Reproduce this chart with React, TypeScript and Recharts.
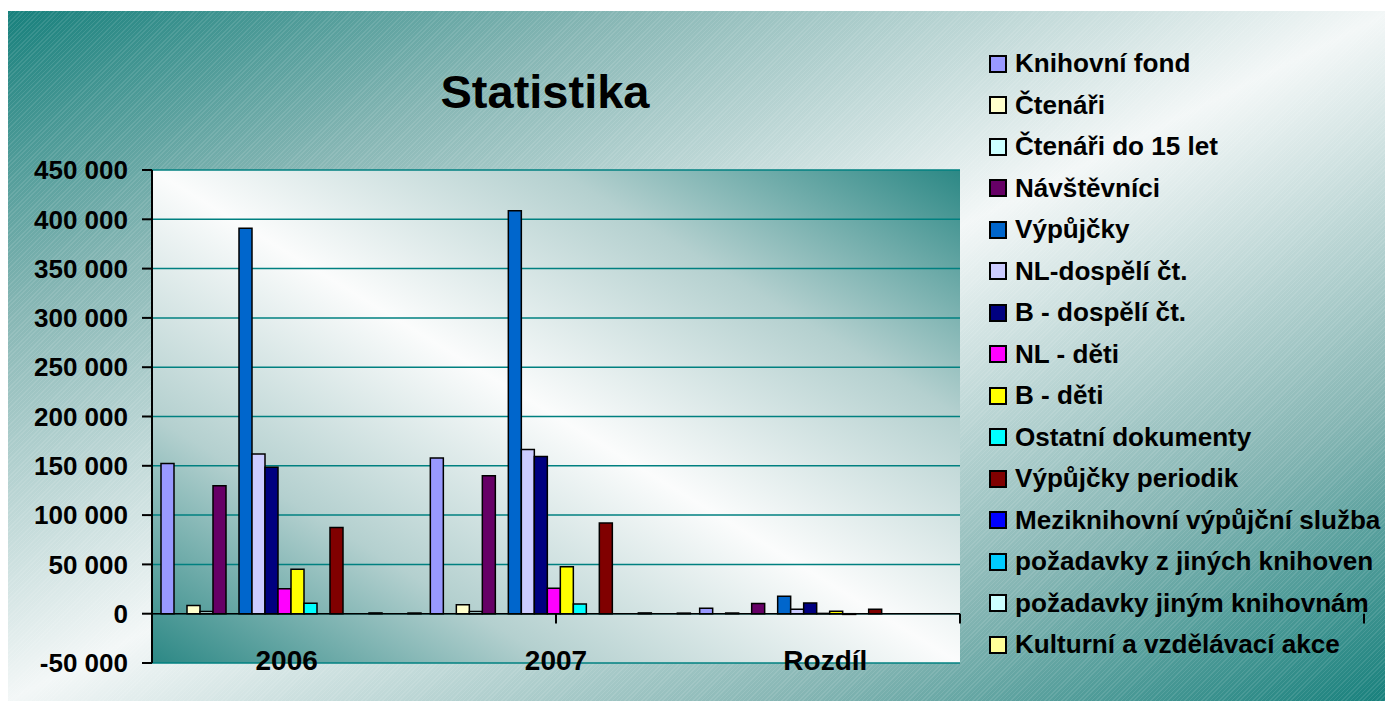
import {
    BarChart, Bar, XAxis, YAxis, CartesianGrid, ReferenceLine, ReferenceArea
} from 'recharts';

// categories on the x axis
const categories = ['2006', '2007', 'Rozdíl'];

// series values per category (2006, 2007, difference)
const knihovniFond = [152400, 158000, 5600];
const ctenari = [8400, 9100, 700];
const ctenariDo15 = [2300, 2300, 0];
const navstevnici = [129700, 140000, 10300];
const vypujcky = [391000, 408700, 17700];
const nlDospeli = [162000, 166600, 4600];
const bDospeli = [148600, 159500, 10900];
const nlDeti = [25400, 25700, 300];
const bDeti = [45000, 47500, 2500];
const ostatniDokumenty = [10500, 9800, -700];
const vypujckyPeriodik = [87400, 92000, 4600];
const meziknihovni = [0, 0, 0];
const pozadavkyZJinych = [800, 800, 0];
const pozadavkyJinym = [0, 0, 0];
const kulturniAkce = [700, 600, 0];
const empty = [null, null, null];

const yTicks = [-50000, 0, 50000, 100000, 150000, 200000, 250000, 300000, 350000, 400000, 450000];
const categoryBounds = [0, 1, 2, 3];

// series in plotting order; entries without a name are empty series hidden from the legend
const SERIES: { key: string; name: string | null; color: string; values: (number | null)[] }[] = [
    { key: 's0', name: 'Knihovní fond', color: '#9999FF', values: knihovniFond },
    { key: 's1', name: null, color: '#993366', values: empty },
    { key: 's2', name: 'Čtenáři', color: '#FFFFCC', values: ctenari },
    { key: 's3', name: 'Čtenáři do 15 let', color: '#CCFFFF', values: ctenariDo15 },
    { key: 's4', name: 'Návštěvníci', color: '#660066', values: navstevnici },
    { key: 's5', name: null, color: '#FF8080', values: empty },
    { key: 's6', name: 'Výpůjčky', color: '#0066CC', values: vypujcky },
    { key: 's7', name: 'NL-dospělí čt.', color: '#CCCCFF', values: nlDospeli },
    { key: 's8', name: 'B - dospělí čt.', color: '#000080', values: bDospeli },
    { key: 's9', name: 'NL - děti', color: '#FF00FF', values: nlDeti },
    { key: 's10', name: 'B - děti', color: '#FFFF00', values: bDeti },
    { key: 's11', name: 'Ostatní dokumenty', color: '#00FFFF', values: ostatniDokumenty },
    { key: 's12', name: null, color: '#800080', values: empty },
    { key: 's13', name: 'Výpůjčky periodik', color: '#800000', values: vypujckyPeriodik },
    { key: 's14', name: null, color: '#008080', values: empty },
    { key: 's15', name: 'Meziknihovní výpůjční služba', color: '#0000FF', values: meziknihovni },
    { key: 's16', name: 'požadavky z jiných knihoven', color: '#00CCFF', values: pozadavkyZJinych },
    { key: 's17', name: 'požadavky jiným knihovnám', color: '#CCFFFF', values: pozadavkyJinym },
    { key: 's18', name: null, color: '#CCFFCC', values: empty },
    { key: 's19', name: 'Kulturní a vzdělávací akce', color: '#FFFF99', values: kulturniAkce },
];

const data = categories.map((cat, i) => {
    const row: Record<string, any> = { cat };
    SERIES.forEach(s => { row[s.key] = s.values[i]; });
    return row;
});

const FONT = '"Liberation Sans", Arial, sans-serif';

const fmt = (v: number) => {
    const s = String(Math.abs(v)).replace(/\B(?=(\d{3})+(?!\d))/g, ' ');
    return v < 0 ? '-' + s : s;
};

const CategoryTick = ({ x, y, payload }: any) => (
    <text x={x} y={y + 7} textAnchor="middle" fontFamily={FONT} fontWeight="bold" fontSize={28} fill="#000">
        {payload.value}
    </text>
);

export default function App() {
    return (
        <div
            style={{
                position: 'relative',
                width: 1386,
                height: 690,
                marginTop: 3,
                marginLeft: -1,
                overflow: 'hidden',
                backgroundImage:
                    'repeating-linear-gradient(135deg, rgba(255,255,255,0.10) 0px, rgba(255,255,255,0.10) 1px, transparent 1px, transparent 3px),' +
                    'linear-gradient(to bottom right, #17807c 0%, #86b6b4 22%, #f3f7f7 50%, #86b6b4 78%, #17807c 100%)',
            }}
        >
            <div
                style={{
                    position: 'absolute', left: 238, top: 57, width: 600, textAlign: 'center',
                    fontFamily: FONT, fontWeight: 'bold', fontSize: 47, lineHeight: '47px', color: '#000',
                }}
            >
                Statistika
            </div>

            <BarChart
                width={1386}
                height={690}
                data={data}
                margin={{ top: 159, right: 433, bottom: 0, left: 0 }}
                barCategoryGap={9}
                barGap={0}
            >
                <defs>
                    <linearGradient id="plotBg" x1="0" y1="1" x2="1" y2="0">
                        <stop offset="0" stopColor="#2c8885" />
                        <stop offset="0.25" stopColor="#b4d0cf" />
                        <stop offset="0.5" stopColor="#fbfcfc" />
                        <stop offset="0.75" stopColor="#b4d0cf" />
                        <stop offset="1" stopColor="#2c8885" />
                    </linearGradient>
                </defs>
                <CartesianGrid vertical={false} stroke="#008080" strokeWidth={1.5} fill="url(#plotBg)" />
                <XAxis
                    dataKey="cat"
                    height={38}
                    axisLine={false}
                    tickLine={false}
                    tickSize={0}
                    tickMargin={0}
                    tick={<CategoryTick />}
                />
                <XAxis xAxisId="n" type="number" domain={[0, 3]} hide />
                <YAxis
                    width={145}
                    domain={[-50000, 450000]}
                    ticks={yTicks}
                    interval={0}
                    tickFormatter={fmt}
                    tickSize={10}
                    tickMargin={14}
                    axisLine={{ stroke: '#000', strokeWidth: 2 }}
                    tickLine={{ stroke: '#000', strokeWidth: 2 }}
                    tick={{ fontFamily: FONT, fontWeight: 'bold', fontSize: 26, fill: '#000' }}
                />
                <ReferenceArea xAxisId="n" x1={0} x2={3} y1={-50000} y2={450000} fill="none" stroke="#808080" strokeWidth={2} />
                {SERIES.map(s => (
                    <Bar
                        key={s.key}
                        dataKey={s.key}
                        name={s.name ?? ''}
                        fill={s.color}
                        stroke="#000"
                        strokeWidth={1.5}
                        legendType="none"
                        isAnimationActive={false}
                    />
                ))}
                <ReferenceLine y={0} stroke="#000" strokeWidth={1.5} />
                {categoryBounds.map(b => (
                    <ReferenceLine
                        key={b}
                        xAxisId="n"
                        segment={[{ x: b, y: 0 }, { x: b, y: -10000 }]}
                        stroke="#000"
                        strokeWidth={2}
                        ifOverflow="visible"
                    />
                ))}
            </BarChart>

            <div style={{ position: 'absolute', left: 982, top: 32, fontFamily: FONT }}>
                {SERIES.filter(s => s.name).map(s => (
                    <div key={s.key} style={{ display: 'flex', alignItems: 'center', height: 41.5 }}>
                        <span
                            style={{
                                display: 'inline-block', width: 18, height: 18, boxSizing: 'border-box',
                                border: '2px solid #000', background: s.color, marginRight: 8,
                            }}
                        />
                        <span style={{ fontWeight: 'bold', fontSize: 26.1, color: '#000', whiteSpace: 'nowrap' }}>
                            {s.name}
                        </span>
                    </div>
                ))}
            </div>
        </div>
    );
}
